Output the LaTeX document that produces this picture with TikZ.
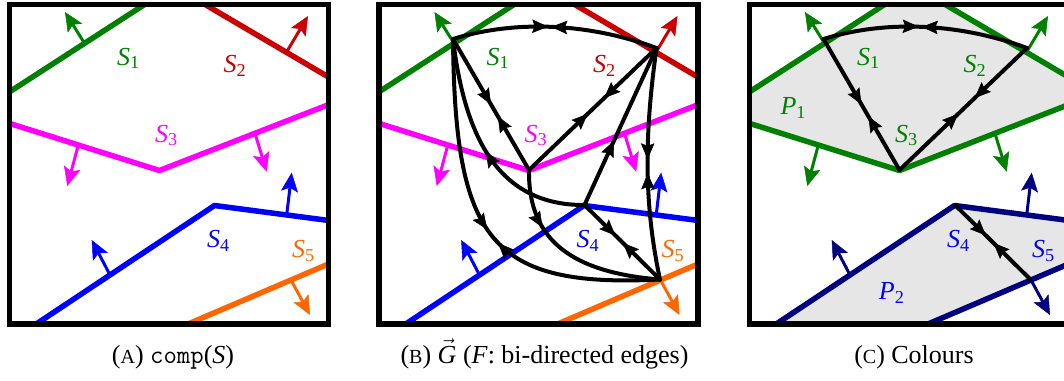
\documentclass[tikz,border=0pt]{standalone}
\usepackage{fontspec}
\setmainfont{Liberation Serif}
\usetikzlibrary{arrows.meta,decorations.markings}
\definecolor{cgreen}{RGB}{0,128,0}
\definecolor{cred}{RGB}{204,0,0}
\definecolor{cmag}{RGB}{255,0,255}
\definecolor{cblue}{RGB}{0,0,255}
\definecolor{corange}{RGB}{255,102,0}
\definecolor{cnavy}{RGB}{0,0,128}
\definecolor{cfill}{RGB}{230,230,230}
\tikzset{
  sline/.style={line width=5.5pt, line join=round},
  normarrow/.style={line width=3pt, -{Stealth[length=19pt,width=17pt,inset=4pt,line width=0.5pt]}},
  gedge/.style={line width=4pt, line cap=round, line join=round, black},
  fw/.style={postaction={decorate,decoration={markings,mark=at position #1 with {\arrow{Stealth[length=16pt,width=13.5pt,inset=2.5pt,line width=0.5pt]}}}}},
  bw/.style={postaction={decorate,decoration={markings,mark=at position #1 with {\arrowreversed{Stealth[length=16pt,width=13.5pt,inset=2.5pt,line width=0.5pt]}}}}},
  lab/.style={inner sep=0pt, font=\fontsize{26}{30}\selectfont},
  captxt/.style={inner sep=0pt, anchor=base, font=\fontsize{26}{30}\selectfont},
  framebox/.style={line width=5.5pt, black},
}
% vertices and arrow end points of one panel (local coordinates)
\newcommand\mkpts[1]{%
  \coordinate (#1v1) at (74,34.5);
  \coordinate (#1v2) at (277.5,43.5);
  \coordinate (#1v3) at (150,165.5);
  \coordinate (#1v4) at (205.5,200.5);
  \coordinate (#1v5) at (281,275);
  \coordinate (#1a1s) at (74.5,38);    \coordinate (#1a1e) at (55.5,7.5);
  \coordinate (#1a2s) at (278,46);     \coordinate (#1a2e) at (298.5,11.5);
  \coordinate (#1a3s) at (68.8,140.5); \coordinate (#1a3e) at (57.8,181.5);
  \coordinate (#1a4s) at (245.5,129);  \coordinate (#1a4e) at (257.2,167.2);
  \coordinate (#1a5s) at (100.5,270.5);\coordinate (#1a5e) at (82.2,235.5);
  \coordinate (#1a6s) at (277.2,210.5);\coordinate (#1a6e) at (282.2,168.2);
  \coordinate (#1a7s) at (281.5,275.5);\coordinate (#1a7e) at (300.5,310.5);
}
% coloured lines and normal arrows: #1 prefix, #2..#6 colours of S1..S5
\newcommand\mklines[6]{%
  \draw[sline,#2] (-20,100.3) -- (166,-20);
  \draw[sline,#3] (161.6,-20) -- (340,84.9);
  \draw[sline,#4] (-20,112.6) -- (150,166) -- (340,92);
  \draw[sline,#5] (-4.1,340) -- (205,201) -- (340,218.7);
  \draw[sline,#6] (130.5,340) -- (340,250.5);
  \draw[normarrow,#2] (#1a1s) -- (#1a1e);
  \draw[normarrow,#3] (#1a2s) -- (#1a2e);
  \draw[normarrow,#4] (#1a3s) -- (#1a3e);
  \draw[normarrow,#4] (#1a4s) -- (#1a4e);
  \draw[normarrow,#5] (#1a5s) -- (#1a5e);
  \draw[normarrow,#5] (#1a6s) -- (#1a6e);
  \draw[normarrow,#6] (#1a7s) -- (#1a7e);
}
\newcommand\mklabels[6]{%
  \node[lab,text=#2] (#1l1) at (119,54) {\textit{S}\textsubscript{1}};
  \node[lab,text=#3] (#1l2) at (225.5,61.5) {\textit{S}\textsubscript{2}};
  \node[lab,text=#4] (#1l3) at (157,131) {\textit{S}\textsubscript{3}};
  \node[lab,text=#5] (#1l4) at (209,236.5) {\textit{S}\textsubscript{4}};
  \node[lab,text=#6] (#1l5) at (294,246.5) {\textit{S}\textsubscript{5}};
}
\begin{document}
\begin{tikzpicture}[x=1pt,y=-1pt]
\clip (0,0) rectangle (1064,380);
\fill[white] (0,0) rectangle (1064,380);

% ---------- Panel A ----------
\begin{scope}[shift={(9.5,4.5)}]
  \mkpts{A}
  \begin{scope}
    \clip (0,0) rectangle (319,319.5);
    \mklines{A}{cgreen}{cred}{cmag}{cblue}{corange}
  \end{scope}
  \mklabels{A}{cgreen}{cred}{cmag}{cblue}{corange}
  \draw[framebox] (0,0) rectangle (319,319.5);
\end{scope}

% ---------- Panel B ----------
\begin{scope}[shift={(379,4.5)}]
  \mkpts{B}
  \begin{scope}
    \clip (0,0) rectangle (319,319.5);
    \mklines{B}{cgreen}{cred}{cmag}{cblue}{corange}
    \draw[gedge, fw=0.465, bw=0.48] (Bv1) .. controls +(65,-20) and +(-65,-24) .. (Bv2);
    \draw[gedge, fw=0.5, bw=0.59] (Bv1) -- (Bv3);
    \draw[gedge, fw=0.41, bw=0.54] (Bv2) -- (Bv3);
    \draw[gedge, fw=0.41] (Bv4) -- (Bv2);
    \draw[gedge, fw=0.48, bw=0.54] (Bv2) .. controls +(-11.5,82.5) and +(-17,-79.5) .. (Bv5);
    \draw[gedge, bw=0.5] (Bv1) .. controls +(12,101) and +(-84.5,0.5) .. (Bv4);
    \draw[gedge, fw=0.51, bw=0.555] (Bv1) .. controls +(2,201) and +(-170,8.5) .. (Bv5);
    \draw[gedge, fw=0.31] (Bv3) .. controls +(-1,65) and +(-95,-7.5) .. (Bv5);
    \draw[gedge, fw=0.41, bw=0.51] (Bv4) -- (Bv5);
  \end{scope}
  \mklabels{B}{cgreen}{cred}{cmag}{cblue}{corange}
  \draw[framebox] (0,0) rectangle (319,319.5);
\end{scope}

% ---------- Panel C ----------
\begin{scope}[shift={(749.5,4.5)}]
  \mkpts{C}
  \begin{scope}
    \clip (0,0) rectangle (319,319.5);
    \fill[cfill] (-20,100.3) -- (163.9,-18.6) -- (340,84.9) -- (340,92) -- (150,166) -- (-20,112.6) -- cycle;
    \fill[cfill] (-4.1,340) -- (205,201) -- (340,218.7) -- (340,250.5) -- (130.5,340) -- cycle;
    \mklines{C}{cgreen}{cgreen}{cgreen}{cnavy}{cnavy}
    \draw[gedge, fw=0.465, bw=0.48] (Cv1) .. controls +(65,-20) and +(-65,-24) .. (Cv2);
    \draw[gedge, fw=0.5, bw=0.59] (Cv1) -- (Cv3);
    \draw[gedge, fw=0.41, bw=0.54] (Cv2) -- (Cv3);
    \draw[gedge, fw=0.41, bw=0.51] (Cv4) -- (Cv5);
  \end{scope}
  \mklabels{C}{cgreen}{cgreen}{cgreen}{cblue}{cblue}
  \node[lab,text=cgreen] (CP1) at (43.8,103.8) {\textit{P}\textsubscript{1}};
  \node[lab,text=cblue] (CP2) at (142.2,288.8) {\textit{P}\textsubscript{2}};
  \draw[framebox] (0,0) rectangle (319,319.5);
\end{scope}

% ---------- Captions ----------
\node[captxt] (capA) at (173,363) {({\fontsize{20}{24}\selectfont A}) \texttt{comp}(\textit{S})};
\node[captxt] (capB) at (544.5,363) {({\fontsize{20}{24}\selectfont B}) $\vec{\hbox{\itshape G}}$ (\textit{F}: bi-directed edges)};
\node[captxt] (capC) at (914,363) {({\fontsize{20}{24}\selectfont C}) Colours};
\end{tikzpicture}
\end{document}
